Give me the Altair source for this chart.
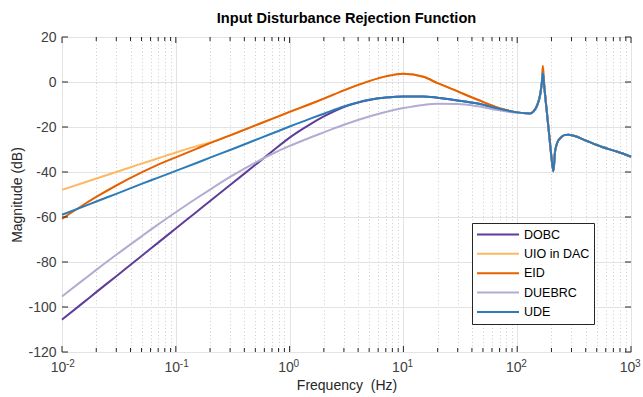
import altair as alt
import pandas as pd

# Frequency points (Hz) where the five rejection responses differ
freq = [0.01, 0.015, 0.02, 0.03, 0.05, 0.07, 0.1, 0.15, 0.2, 0.3, 0.5, 0.7,
        1, 1.5, 2, 3, 5, 7, 10, 15, 20, 30, 45, 70, 100]

dobc_db = [-105.6, -98.5, -93.4, -86.3, -77.3, -71.4, -65.1, -58.0, -52.9, -45.8,
           -36.8, -30.9, -24.7, -18.9, -15.3, -11.1, -8.0, -6.9, -6.4, -6.4,
           -7.0, -8.2, -9.6, -11.9, -13.5]
uio_db = [-47.9, -45.0, -42.9, -40.0, -36.3, -33.9, -31.3, -28.6, -26.9, -23.7,
          -19.3, -16.4, -13.3, -9.9, -7.4, -3.7, 0.4, 2.5, 3.7, 2.3,
          -0.5, -4.2, -7.9, -11.6, -13.5]
eid_db = [-60.8, -55.0, -51.1, -46.0, -40.2, -36.7, -33.5, -29.8, -27.2, -23.7,
          -19.3, -16.4, -13.3, -9.9, -7.4, -3.7, 0.4, 2.5, 3.7, 2.3,
          -0.5, -4.2, -7.9, -11.6, -13.5]
duebrc_db = [-95.3, -88.4, -83.5, -76.8, -68.6, -63.3, -57.9, -51.9, -47.8, -42.2,
             -35.8, -32.0, -28.4, -24.8, -22.4, -19.0, -15.3, -13.3, -11.6, -10.2,
             -9.7, -9.8, -10.8, -12.6, -13.7]
ude_db = [-59.0, -55.6, -53.1, -49.7, -45.3, -42.5, -39.5, -36.1, -33.6, -30.2,
          -25.8, -22.9, -19.8, -16.4, -14.1, -10.9, -7.9, -6.9, -6.4, -6.4,
          -7.0, -8.2, -9.6, -11.9, -13.5]

# Resonance / anti-resonance band shared by all designs (Hz, dB)
freq_res = [120, 129, 140, 150, 160, 165, 168, 173, 180, 190, 200, 208,
            215, 225, 240, 260, 280, 320, 400, 550, 750, 1000]
res_db = [-13.9, -14.0, -12.9, -10.3, -5.0, 0.0, 4.0, -2.3, -10.8, -22.3, -33.4, -39.7,
          -31.0, -27.0, -24.9, -23.6, -23.4, -24.0, -26.0, -28.8, -30.9, -33.2]
eid_res_db = [-13.9, -14.0, -12.9, -10.3, -5.0, 0.8, 7.2, -1.2, -10.8, -22.3, -33.4, -39.7,
              -31.0, -27.0, -24.9, -23.6, -23.4, -24.0, -26.0, -28.8, -30.9, -33.2]

names = ["DOBC", "UIO in DAC", "EID", "DUEBRC", "UDE"]
colors = ["#5e3c99", "#fdb863", "#e66101", "#b2abd2", "#2c7bb6"]
series = {
    "DOBC": dobc_db + res_db,
    "UIO in DAC": uio_db + res_db,
    "EID": eid_db + eid_res_db,
    "DUEBRC": duebrc_db + res_db,
    "UDE": ude_db + res_db,
}
all_freq = freq + freq_res

# Axis tick positions and decade exponents
x_major = [0.01, 0.1, 1, 10, 100, 1000]
x_exponents = ["-2", "-1", "0", "1", "2", "3"]
x_minor = [k * 10.0 ** e for e in range(-2, 3) for k in range(2, 10)]
y_major = [-120, -100, -80, -60, -40, -20, 0, 20]

W, H = 569, 315
FONT = "Liberation Sans"
AX = "#262626"
LBL = "#404040"

x_scale = alt.Scale(type="log", domain=[0.01, 1000], nice=False)
y_scale = alt.Scale(domain=[-120, 20], nice=False, zero=False)
color_scale = alt.Scale(domain=names, range=colors)

is_major = ("datum.value == 0.01 || datum.value == 0.1 || datum.value == 1 || "
            "datum.value == 10 || datum.value == 100 || datum.value == 1000")

x_axis = alt.Axis(
    values=x_major + x_minor, labelExpr="(" + is_major + ") ? '10' : ''",
    labelOverlap=False, labelAlign="center", labelOffset=-4,
    title="Frequency\u00a0 (Hz)", titleFont=FONT, titleFontSize=14,
    titleFontWeight="normal", titleColor=AX, titlePadding=4,
    labelFont=FONT, labelFontSize=14, labelColor=LBL, labelPadding=8,
    ticks=False, domain=False, grid=True,
    gridColor={"condition": {"test": is_major, "value": "#e3e3e3"}, "value": "#cfcfcf"},
    gridDash={"condition": {"test": is_major, "value": []}, "value": [1, 2.5]},
    gridWidth=1,
)
y_axis = alt.Axis(
    values=y_major, labelExpr="'' + datum.value",
    title="Magnitude (dB)", titleFont=FONT, titleFontSize=14,
    titleFontWeight="normal", titleColor=AX, titlePadding=3,
    labelFont=FONT, labelFontSize=14, labelColor=LBL, labelPadding=6,
    ticks=False, domain=False, grid=True, gridColor="#e3e3e3", gridWidth=1,
)

X = lambda field: alt.X(field, scale=x_scale, axis=x_axis)
Y = lambda field: alt.Y(field, scale=y_scale, axis=y_axis)

legend = alt.Legend(
    title=None, orient="none", legendX=410, legendY=186,
    symbolType="stroke", symbolSize=1764, symbolStrokeWidth=2,
    clipHeight=15, rowPadding=4.35, padding=4, labelOffset=4,
    labelFont=FONT, labelFontSize=12.5, labelColor="black",
    strokeColor=AX, fillColor="white",
)

layers = []
for name in names:
    df = pd.DataFrame({"f": all_freq, "db": series[name], "Method": name})
    layers.append(
        alt.Chart(df).mark_line(strokeWidth=2, interpolate="monotone").encode(
            x=X("f:Q"), y=Y("db:Q"),
            color=alt.Color("Method:N", scale=color_scale, legend=legend),
        )
    )

# Inward tick marks on all four sides of the box
xmaj = pd.DataFrame({"f": x_major, "exp": x_exponents})
xmin = pd.DataFrame({"f": x_minor})
ymaj = pd.DataFrame({"db": y_major})


def xticks(df, length):
    base = alt.Chart(df).mark_rule(color=AX, strokeWidth=1)
    bottom = base.encode(x=X("f:Q"), y=alt.value(H), y2=alt.value(H - length))
    top = base.encode(x=X("f:Q"), y=alt.value(0), y2=alt.value(length))
    return [bottom, top]


yt = alt.Chart(ymaj).mark_rule(color=AX, strokeWidth=1)
yticks = [
    yt.encode(y=Y("db:Q"), x=alt.value(0), x2=alt.value(6)),
    yt.encode(y=Y("db:Q"), x=alt.value(W), x2=alt.value(W - 6)),
]

# Superscript exponents of the decade labels (10^n)
exponents = alt.Chart(xmaj).mark_text(
    align="left", baseline="alphabetic", dx=4, font=FONT, fontSize=10, color=LBL
).encode(x=X("f:Q"), y=alt.value(H + 15), text="exp:N")

chart = alt.layer(
    *layers, *xticks(xmaj, 6), *xticks(xmin, 4), *yticks, exponents
).properties(
    width=W, height=H,
    title=alt.TitleParams(
        "Input Disturbance Rejection Function", font=FONT, fontSize=14.6,
        fontWeight="bold", color="black", anchor="middle", offset=4,
    ),
    autosize=alt.AutoSizeParams(type="none"),
    padding={"left": 62, "top": 37, "right": 12, "bottom": 45},
).configure_view(
    stroke=AX, strokeWidth=1
).configure(background="white")

chart.save("out.html", embed_options={"renderer": "svg", "actions": False})
